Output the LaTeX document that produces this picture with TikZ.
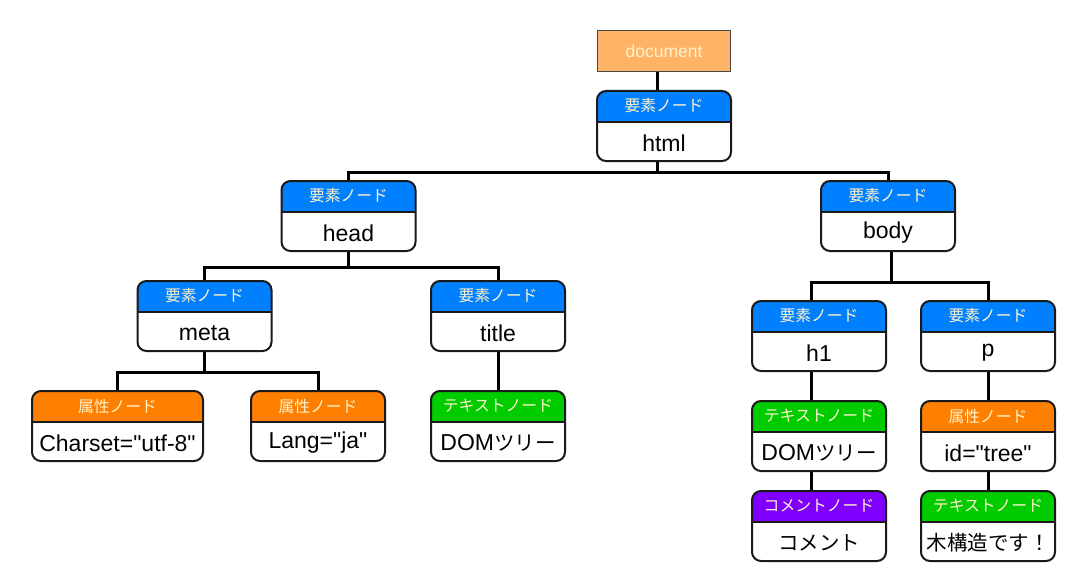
\documentclass[tikz,border=0pt]{standalone}
\usepackage{fontspec}
\setmainfont{Liberation Sans}[Ligatures=TeXOff]
\newfontfamily\jp{Noto Sans CJK JP}
\newcommand\jpb{\jp\fontsize{20.5}{21}\selectfont}
\definecolor{elblue}{HTML}{007FFF}
\definecolor{atorange}{HTML}{FF8000}
\definecolor{txgreen}{HTML}{00CC00}
\definecolor{cmpurple}{HTML}{7F00FF}
\definecolor{docfill}{HTML}{FFB366}
\definecolor{hdrtext}{HTML}{FFF2CC}
\definecolor{edgecol}{HTML}{1A1A1A}
\tikzset{
  dbox/.style={draw=edgecol, line width=2pt, rounded corners=9pt, fill=white,
    minimum height=70pt, inner sep=0pt,
    path picture={\fill[#1, sharp corners] (path picture bounding box.north west) rectangle ([yshift=-31pt]path picture bounding box.north east);
      \draw[edgecol, line width=1.2pt, sharp corners] ([yshift=-31pt]path picture bounding box.north west) -- ([yshift=-31pt]path picture bounding box.north east);}},
  hdr/.style={text=hdrtext, font=\jp\fontsize{15.8}{16}\selectfont, inner sep=0pt},
  bdy/.style={text=black, font=\fontsize{23}{23}\selectfont, inner sep=0pt},
  docbox/.style={draw=edgecol!80, line width=1pt, fill=docfill, minimum width=133pt, minimum height=41pt,
    text=hdrtext, font=\fontsize{17.5}{17.5}\selectfont},
  edge/.style={draw=black, line width=3pt},
}
\newcommand\dnode[7]{%
  \node[dbox=#5, minimum width=#4pt] (#1) at (#2,#3+35) {};
  \node[hdr] (#1-h) at ([yshift=-16pt]#1.north) {#6};
  \node[bdy] (#1-b) at ([yshift=19pt]#1.south) {#7};
}
\begin{document}
\begin{tikzpicture}[x=1pt,y=-1pt]
\useasboundingbox (0,0) rectangle (1083,583);
\node[docbox] (doc) at (664,51.5) {document};
\dnode{html}{664}{91}{134}{elblue}{要素ノード}{html}
\dnode{head}{348.5}{181}{134}{elblue}{要素ノード}{head}
\dnode{body}{888}{181}{134}{elblue}{要素ノード}{body}
\dnode{meta}{204.5}{281}{134}{elblue}{要素ノード}{meta}
\dnode{title}{498}{281}{134}{elblue}{要素ノード}{title}
\dnode{h1}{819}{301}{134}{elblue}{要素ノード}{h1}
\dnode{p}{988}{301}{134}{elblue}{要素ノード}{p}
\dnode{charset}{117.5}{391}{171}{atorange}{属性ノード}{Charset="utf-8"}
\dnode{lang}{318}{391}{134}{atorange}{属性ノード}{Lang="ja"}
\dnode{ttext}{498}{391}{134}{txgreen}{テキストノード}{DOM{\jpb ツリー}}
\dnode{htext}{819}{401}{134}{txgreen}{テキストノード}{DOM{\jpb ツリー}}
\dnode{idattr}{988}{401}{134}{atorange}{属性ノード}{id="tree"}
\dnode{comment}{819}{491}{134}{cmpurple}{コメントノード}{{\jpb コメント}}
\dnode{ptext}{988}{491}{134}{txgreen}{テキストノード}{{\jpb 木構造です！}}
% edges
\draw[edge] ([xshift=-7pt]doc.south) -- ([xshift=-7pt]html.north);
\draw[edge] ([xshift=-7pt]html.south) -- ([xshift=-7pt,yshift=-10pt]html.south) coordinate (hb) -| (head.north);
\draw[edge] (hb) -| (body.north);
\draw[edge] (head.south) -- ([yshift=-15pt]head.south) coordinate (hdb) -| (meta.north);
\draw[edge] (hdb) -| (title.north);
\draw[edge] ([xshift=3pt]body.south) -- ([xshift=3pt,yshift=-30pt]body.south) coordinate (bb) -| ([xshift=-8pt]h1.north);
\draw[edge] (bb) -| (p.north);
\draw[edge] (meta.south) -- ([yshift=-20pt]meta.south) coordinate (mb) -| (charset.north);
\draw[edge] (mb) -| (lang.north);
\draw[edge] (title.south) -- (ttext.north);
\draw[edge] ([xshift=-8pt]h1.south) -- ([xshift=-8pt]htext.north);
\draw[edge] ([xshift=-8pt]htext.south) -- ([xshift=-8pt]comment.north);
\draw[edge] (p.south) -- (idattr.north);
\draw[edge] (idattr.south) -- (ptext.north);
\end{tikzpicture}
\end{document}
